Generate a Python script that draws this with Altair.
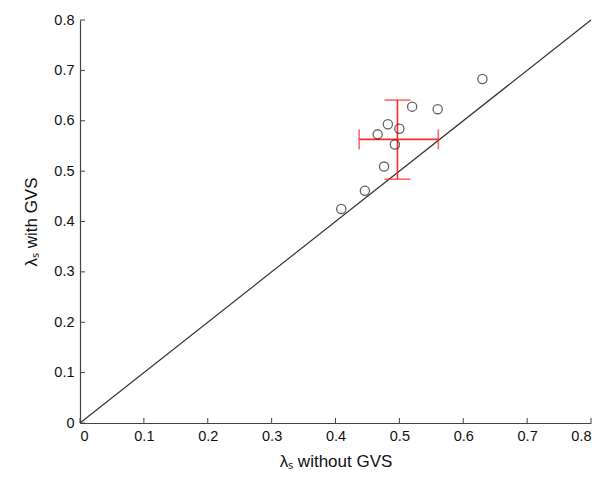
import altair as alt
import pandas as pd

x_without = [0.630, 0.520, 0.560, 0.482, 0.466, 0.500, 0.493, 0.476, 0.446, 0.409]
y_with = [0.683, 0.628, 0.623, 0.593, 0.573, 0.584, 0.553, 0.509, 0.461, 0.425]

mean_x = [0.497]
mean_y = [0.563]
err_x_lo = [0.437]
err_x_hi = [0.561]
err_y_lo = [0.484]
err_y_hi = [0.641]

ticks = [0, 0.1, 0.2, 0.3, 0.4, 0.5, 0.6, 0.7, 0.8]
diag = [0, 0.8]

W, H = 511, 403
FONT = "Liberation Sans"
RED = "#ff2a2a"

pts = pd.DataFrame({"x": x_without, "y": y_with})
err = pd.DataFrame({"x": mean_x, "y": mean_y, "xlo": err_x_lo, "xhi": err_x_hi,
                    "ylo": err_y_lo, "yhi": err_y_hi})
dg = pd.DataFrame({"x": diag, "y": diag})
tk = pd.DataFrame({"t": ticks})

xs = alt.Scale(domain=[0, 0.8], nice=False, zero=False)
ys = alt.Scale(domain=[0, 0.8], nice=False, zero=False)

xaxis = alt.Axis(values=ticks, format=".1~f", title="λₛ without GVS", grid=False,
                 tickSize=0, labelPadding=6, domainColor="#444", domainWidth=1.2,
                 labelFont=FONT, labelFontSize=14.5, labelColor="#111",
                 titleFont=FONT, titleFontSize=17, titleFontWeight="normal",
                 titleColor="#111", titlePadding=11)
yaxis = alt.Axis(values=ticks, format=".1~f", title="λₛ with GVS", grid=False,
                 tickSize=0, labelPadding=6, domainColor="#444", domainWidth=1.2,
                 labelFont=FONT, labelFontSize=14.5, labelColor="#111",
                 titleFont=FONT, titleFontSize=17, titleFontWeight="normal",
                 titleColor="#111", titlePadding=13)

line = alt.Chart(dg).mark_line(color="#333", strokeWidth=1.2).encode(
    x=alt.X("x:Q", scale=xs, axis=xaxis),
    y=alt.Y("y:Q", scale=ys, axis=yaxis),
)

xt = alt.Chart(tk).mark_rule(color="#444", strokeWidth=1).encode(
    x=alt.X("t:Q", scale=xs), y=alt.value(H), y2=alt.value(H - 5))
yt = alt.Chart(tk).mark_rule(color="#444", strokeWidth=1).encode(
    y=alt.Y("t:Q", scale=ys), x=alt.value(0), x2=alt.value(5))

vbar = alt.Chart(err).mark_rule(color=RED, strokeWidth=1.6).encode(
    x=alt.X("x:Q", scale=xs), y=alt.Y("ylo:Q", scale=ys), y2="yhi:Q")
hbar = alt.Chart(err).mark_rule(color=RED, strokeWidth=1.6).encode(
    y=alt.Y("y:Q", scale=ys), x=alt.X("xlo:Q", scale=xs), x2="xhi:Q")
cap_top = alt.Chart(err).mark_tick(color=RED, orient="horizontal", size=26, thickness=1.6).encode(
    x=alt.X("x:Q", scale=xs), y=alt.Y("yhi:Q", scale=ys))
cap_bot = alt.Chart(err).mark_tick(color=RED, orient="horizontal", size=26, thickness=1.6).encode(
    x=alt.X("x:Q", scale=xs), y=alt.Y("ylo:Q", scale=ys))
cap_l = alt.Chart(err).mark_tick(color=RED, orient="vertical", size=20, thickness=1.6).encode(
    x=alt.X("xlo:Q", scale=xs), y=alt.Y("y:Q", scale=ys))
cap_r = alt.Chart(err).mark_tick(color=RED, orient="vertical", size=20, thickness=1.6).encode(
    x=alt.X("xhi:Q", scale=xs), y=alt.Y("y:Q", scale=ys))

points = alt.Chart(pts).mark_point(shape="circle", filled=False, color="#222",
                                   size=85, strokeWidth=1.3).encode(
    x=alt.X("x:Q", scale=xs), y=alt.Y("y:Q", scale=ys))

chart = alt.layer(line, xt, yt, vbar, hbar, cap_top, cap_bot, cap_l, cap_r, points).properties(
    width=W, height=H,
    autosize=alt.AutoSizeParams(type="none"),
    padding={"left": 80, "top": 20, "right": 11, "bottom": 58},
    background="white",
).configure_view(stroke=None)

chart.save("out.html", embed_options={"renderer": "svg", "actions": False})
